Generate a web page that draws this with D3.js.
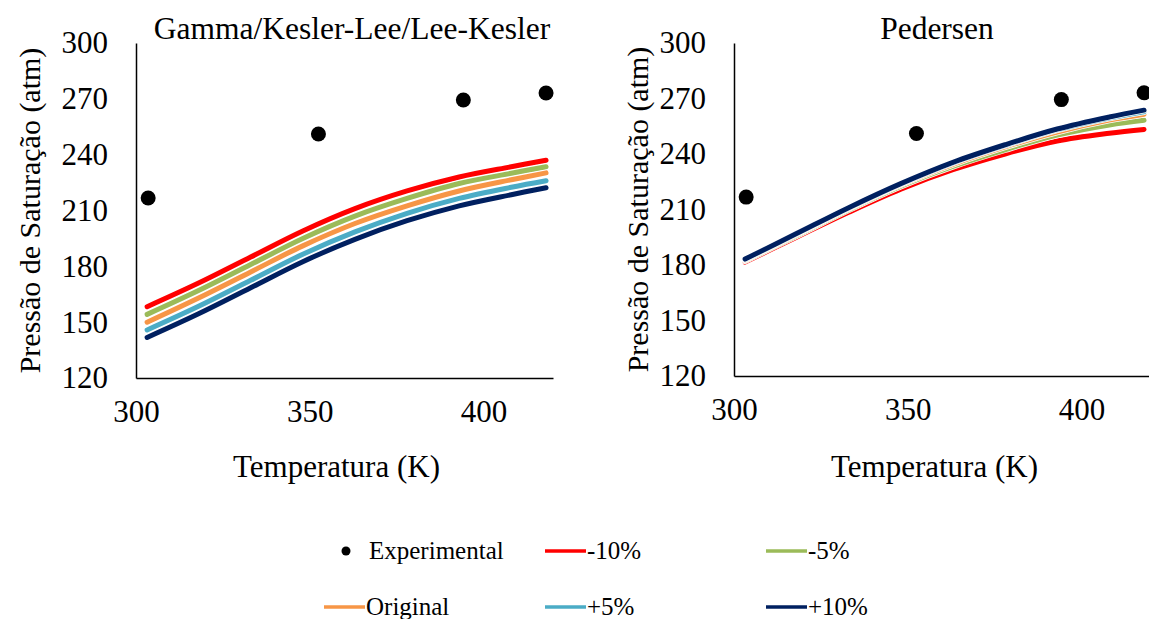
<!DOCTYPE html>
<html>
<head>
<meta charset="utf-8">
<script src="https://cdn.jsdelivr.net/npm/d3@7/dist/d3.min.js"></script>
<style>
  body { margin: 0; background: #fff; }
  svg { display: block; }
  svg text { font-family: "Liberation Serif", serif; }
</style>
</head>
<body>
<div id="chart"></div>
<script>
// temperaturas (K) usadas nas curvas
var temps = [303.2, 318, 333, 348, 363, 378, 393, 408, 418];

// experimental
var expT = [303.5, 352.5, 394.2, 418];
var expP = [216.7, 251.1, 269.4, 273.1];

// Gamma/Kesler-Lee/Lee-Kesler
var gammaM10 = [158.3, 171, 185, 199, 211, 220.5, 228, 233.5, 237];
var gammaM5  = [154.2, 167, 181, 195, 207, 216.5, 224.5, 230, 233.5];
var gammaOri = [150, 163, 177, 191, 203, 212.5, 220.5, 226.5, 230.2];
var gammaP5  = [145.8, 158.5, 172.5, 186.5, 198.5, 208.5, 216.5, 222.5, 226];
var gammaP10 = [141.8, 154.5, 168.5, 182.5, 194.5, 204.5, 212.5, 218.5, 222.2];

// Pedersen
var pedM10 = [181.6, 195, 208.5, 221, 231.5, 240, 247, 251.2, 253.3];
var pedM5  = [182.3, 195.8, 209.8, 222.6, 233.3, 242.3, 250.2, 255.7, 258.2];
var pedOri = [182.7, 196.4, 210.4, 223.4, 234.4, 243.8, 251.9, 258.3, 261.5];
var pedP5  = [183, 196.8, 210.8, 223.8, 235.2, 244.6, 253, 259.4, 262.8];
var pedP10 = [183.2, 197, 211, 224, 235.5, 245, 253.5, 260, 263.7];

var seriesNames = ["-10%", "-5%", "Original", "+5%", "+10%"];
var seriesColors = ["#FF0000", "#9BBB59", "#F79646", "#4BACC6", "#002060"];

var xTicks = [300, 350, 400];
var yTicks = [120, 150, 180, 210, 240, 270, 300];

var width = 1149, height = 619;
var FONT = "Liberation Serif";

var svg = d3.select("#chart").append("svg")
    .attr("width", width)
    .attr("height", height);

var panels = [
    { title: "Gamma/Kesler-Lee/Lee-Kesler", left: 136, top: 43, bottom: 378, titleX: 352, ytitleX: 30,
      series: [gammaM10, gammaM5, gammaOri, gammaP5, gammaP10] },
    { title: "Pedersen", left: 734, top: 43, bottom: 376, titleX: 937, ytitleX: 638,
      series: [pedM10, pedM5, pedOri, pedP5, pedP10] }
];

panels.forEach(function (p) {
    var x = d3.scaleLinear().domain([300, 420]).range([p.left, p.left + 417]);
    var y = d3.scaleLinear().domain([120, 300]).range([p.bottom, p.top]);

    var g = svg.append("g");

    // eixo y
    var yAxis = g.append("g")
        .attr("transform", "translate(" + p.left + ",0)")
        .call(d3.axisLeft(y).tickValues(yTicks).tickSize(0).tickPadding(28))
        .attr("font-family", FONT);
    yAxis.select(".domain").attr("stroke", "#000").attr("stroke-width", 1.5);
    yAxis.selectAll("text").attr("font-size", 31).attr("fill", "#000");

    // eixo x
    var xAxis = g.append("g")
        .attr("transform", "translate(0," + p.bottom + ")")
        .call(d3.axisBottom(x).tickValues(xTicks).tickSize(0).tickPadding(22))
        .attr("font-family", FONT);
    xAxis.select(".domain").attr("stroke", "#000").attr("stroke-width", 1.5);
    xAxis.selectAll("text").attr("font-size", 31).attr("fill", "#000");

    // titulos
    g.append("text")
        .attr("x", p.titleX).attr("y", 39)
        .attr("text-anchor", "middle")
        .attr("font-family", FONT)
        .attr("font-size", 31.5)
        .text(p.title);

    g.append("text")
        .attr("x", p.left + 417 / 2 - 8).attr("y", 477)
        .attr("text-anchor", "middle")
        .attr("font-family", FONT)
        .attr("font-size", 31)
        .text("Temperatura (K)");

    g.append("text")
        .attr("transform", "translate(" + (p.ytitleX + 10) + "," + ((p.top + p.bottom) / 2) + ") rotate(-90)")
        .attr("text-anchor", "middle")
        .attr("font-family", FONT)
        .attr("font-size", 30)
        .text("Pressão de Saturação (atm)");

    var line = d3.line()
        .x(function (d, i) { return x(temps[i]); })
        .y(function (d) { return y(d); })
        .curve(d3.curveCatmullRom);

    p.series.forEach(function (s, si) {
        g.append("path")
            .datum(s)
            .attr("fill", "none")
            .attr("stroke", "#fff")
            .attr("stroke-width", 6.5)
            .attr("stroke-linecap", "round")
            .attr("d", line);
        g.append("path")
            .datum(s)
            .attr("fill", "none")
            .attr("stroke", seriesColors[si])
            .attr("stroke-width", 5)
            .attr("stroke-linecap", "round")
            .attr("d", line);
    });

    g.selectAll(".pt")
        .data(expT)
        .enter().append("circle")
        .attr("cx", function (d) { return x(d); })
        .attr("cy", function (d, i) { return y(expP[i]); })
        .attr("r", 7.5)
        .attr("fill", "#000");
});

// legenda
var legendItems = ["Experimental"].concat(seriesNames);
var leg = svg.append("g").attr("font-size", 25).attr("font-family", FONT);
legendItems.forEach(function (name, i) {
    var col = i % 3, row = Math.floor(i / 3);
    var lx = 324 + col * 221, ly = 551 + row * 56;
    if (i === 0) {
        leg.append("circle").attr("cx", lx + 22).attr("cy", ly).attr("r", 4.5).attr("fill", "#000");
        leg.append("text").attr("x", lx + 45).attr("y", ly + 8).attr("font-family", FONT).text(name);
    } else {
        leg.append("line")
            .attr("x1", lx).attr("x2", lx + 41)
            .attr("y1", ly).attr("y2", ly)
            .attr("stroke", seriesColors[i - 1])
            .attr("stroke-width", 3.5);
        leg.append("text").attr("x", lx + 42).attr("y", ly + 8).attr("font-family", FONT).text(name);
    }
});
</script>
</body>
</html>
